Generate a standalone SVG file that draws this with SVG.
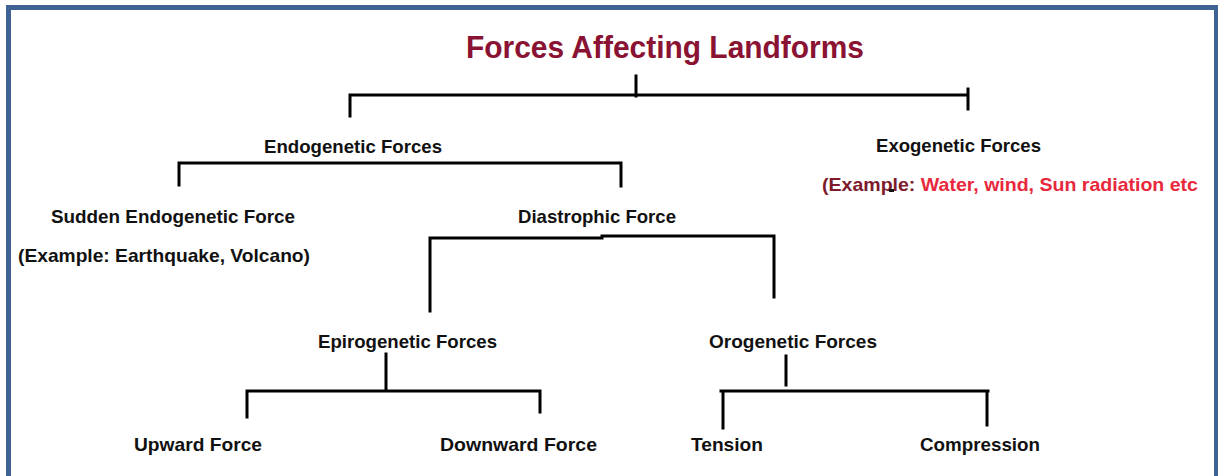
<svg xmlns="http://www.w3.org/2000/svg" width="1218" height="476" viewBox="0 0 1218 476">
<style>
.t{font-family:"Liberation Sans",Arial,sans-serif;font-weight:bold;font-size:19px;fill:#111}
.title{font-family:"Liberation Sans",Arial,sans-serif;font-weight:bold;font-size:31px;fill:#8a1232}
.ln{stroke:#000;stroke-width:3;fill:none;stroke-linecap:square}
.frame{fill:#3f6194}
</style>
<rect width="1218" height="476" fill="#fff"/>
<g id="frame">
<rect class="frame" x="6" y="5" width="1212" height="5"/>
<rect class="frame" x="6" y="5" width="5" height="471"/>
<rect class="frame" x="1214" y="5" width="4" height="471"/>
</g>
<g id="connectors">
<path class="ln" d="M636 76V96M350 95H968M350 95V116M968 89V109"/>
<path class="ln" d="M179 163H621M179 163V185M621 163V186"/>
<path class="ln" d="M430 238H602V236H774M430 238V311M774 236V297"/>
<path class="ln" d="M386 354V391M247 391H540M247 391V417M540 391V412"/>
<path class="ln" d="M786 356V385M721 391H988M723 391V428M987 391V425"/>
</g>
<g id="title"><text class="title" x="466" y="58" textLength="398" lengthAdjust="spacingAndGlyphs">Forces Affecting Landforms</text></g>
<g id="endogenetic"><text class="t" x="264" y="153" textLength="178" lengthAdjust="spacingAndGlyphs">Endogenetic Forces</text></g>
<g id="exogenetic">
<text class="t" x="876" y="152" textLength="165" lengthAdjust="spacingAndGlyphs">Exogenetic Forces</text>
<text class="t" x="822" y="191" textLength="376" lengthAdjust="spacingAndGlyphs"><tspan fill="#7d1a2c">(Example: </tspan><tspan fill="#e8283c">Water, wind, Sun radiation etc</tspan></text>
<rect x="889" y="189" width="5" height="3" fill="#111"/>
</g>
<g id="sudden">
<text class="t" x="51" y="223" textLength="244" lengthAdjust="spacingAndGlyphs">Sudden Endogenetic Force</text>
<text class="t" x="18" y="262" textLength="292" lengthAdjust="spacingAndGlyphs">(Example: Earthquake, Volcano)</text>
</g>
<g id="diastrophic"><text class="t" x="518" y="223" textLength="158" lengthAdjust="spacingAndGlyphs">Diastrophic Force</text></g>
<g id="epirogenetic"><text class="t" x="318" y="348" textLength="179" lengthAdjust="spacingAndGlyphs">Epirogenetic Forces</text></g>
<g id="orogenetic"><text class="t" x="709" y="348" textLength="168" lengthAdjust="spacingAndGlyphs">Orogenetic Forces</text></g>
<g id="upward"><text class="t" x="134" y="451" textLength="128" lengthAdjust="spacingAndGlyphs">Upward Force</text></g>
<g id="downward"><text class="t" x="440" y="451" textLength="157" lengthAdjust="spacingAndGlyphs">Downward Force</text></g>
<g id="tension"><text class="t" x="691" y="451" textLength="72" lengthAdjust="spacingAndGlyphs">Tension</text></g>
<g id="compression"><text class="t" x="920" y="451" textLength="120" lengthAdjust="spacingAndGlyphs">Compression</text></g>
</svg>
